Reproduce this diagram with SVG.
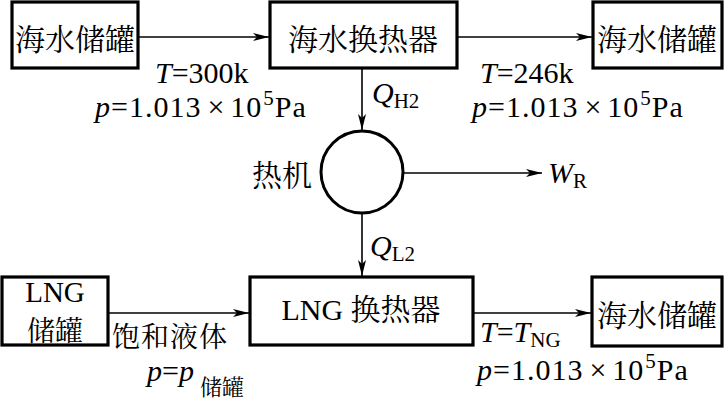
<svg xmlns="http://www.w3.org/2000/svg" width="725" height="401" viewBox="0 0 725 401">
<style>
.box{fill:#fff;stroke:#000;stroke-width:3.2}
.ln{fill:none;stroke:#000;stroke-width:1.6}
.cjk{font-family:"Noto Serif CJK SC","Noto Sans CJK SC",sans-serif;font-size:30px;fill:#000}
.lat{font-family:"Liberation Serif","Noto Sans CJK SC",serif;font-size:30px;fill:#000}
.it{font-style:italic}
.sub{font-size:21px}
.pl{letter-spacing:1px}
</style>
<defs>
<marker id="ah" markerUnits="userSpaceOnUse" markerWidth="18" markerHeight="10" refX="16" refY="5" orient="auto">
<path d="M0,1 L16,5 L0,9 L4,5 z" fill="#000"/>
</marker>
</defs>
<rect width="725" height="401" fill="#fff"/>
<g id="connectors">
<line class="ln" x1="138" y1="37" x2="269" y2="37" marker-end="url(#ah)"/>
<line class="ln" x1="457" y1="37" x2="592" y2="37" marker-end="url(#ah)"/>
<line class="ln" x1="362" y1="68" x2="362" y2="130" marker-end="url(#ah)"/>
<line class="ln" x1="403" y1="173" x2="542" y2="173" marker-end="url(#ah)"/>
<line class="ln" x1="362" y1="214" x2="362" y2="276" marker-end="url(#ah)"/>
<line class="ln" x1="108" y1="313" x2="249" y2="313" marker-end="url(#ah)"/>
<line class="ln" x1="473" y1="313" x2="591" y2="313" marker-end="url(#ah)"/>
</g>
<g id="tank1">
<rect class="box" x="12" y="2" width="126" height="66"/>
<text class="cjk" x="75" y="37" text-anchor="middle" dominant-baseline="central">海水储罐</text>
</g>
<g id="hx1">
<rect class="box" x="270" y="2" width="187" height="66"/>
<text class="cjk" x="363" y="37" text-anchor="middle" dominant-baseline="central">海水换热器</text>
</g>
<g id="tank2">
<rect class="box" x="593" y="2" width="129" height="66"/>
<text class="cjk" x="657" y="37" text-anchor="middle" dominant-baseline="central">海水储罐</text>
</g>
<g id="engine">
<circle cx="362" cy="172" r="41" fill="#fff" stroke="#000" stroke-width="3"/>
<text class="cjk" x="282" y="173" text-anchor="middle" dominant-baseline="central">热机</text>
</g>
<g id="lngtank">
<rect class="box" x="2" y="277" width="106" height="68"/>
<text class="lat" x="55" y="302" text-anchor="middle" style="font-size:29px">LNG</text>
<text class="cjk" x="55" y="329" text-anchor="middle" dominant-baseline="central" style="font-size:28px">储罐</text>
</g>
<g id="lnghx">
<rect class="box" x="250" y="277" width="223" height="68"/>
<text class="lat" x="361" y="320" text-anchor="middle">LNG <tspan class="cjk" style="font-size:30px">换热器</tspan></text>
</g>
<g id="tank3">
<rect class="box" x="592" y="277" width="130" height="69"/>
<text class="cjk" x="657" y="313" text-anchor="middle" dominant-baseline="central">海水储罐</text>
</g>
<g id="labels">
<text class="lat" x="155" y="83"><tspan class="it">T</tspan>=300k</text>
<text class="lat pl" x="95" y="117"><tspan class="it">p</tspan>=1.013<tspan dx="6">×</tspan><tspan dx="5">10</tspan><tspan class="sub" dx="1" dy="-12">5</tspan><tspan dy="12">Pa</tspan></text>
<text class="lat" x="480" y="83"><tspan class="it">T</tspan>=246k</text>
<text class="lat pl" x="472" y="117"><tspan class="it">p</tspan>=1.013<tspan dx="6">×</tspan><tspan dx="5">10</tspan><tspan class="sub" dx="1" dy="-12">5</tspan><tspan dy="12">Pa</tspan></text>
<text class="lat" x="372" y="103"><tspan class="it">Q</tspan><tspan class="sub" dy="5">H2</tspan></text>
<text class="lat" x="548" y="183"><tspan class="it">W</tspan><tspan class="sub" dy="5">R</tspan></text>
<text class="lat" x="370" y="256"><tspan class="it">Q</tspan><tspan class="sub" dy="5">L2</tspan></text>
<text class="cjk" x="112" y="335" dominant-baseline="central" style="font-size:28px;letter-spacing:1px">饱和液体</text>
<text class="lat" x="147" y="381"><tspan class="it">p</tspan>=<tspan class="it">p</tspan><tspan class="cjk" style="font-size:22px" dx="6" dy="14">储罐</tspan></text>
<text class="lat" x="480" y="342"><tspan class="it">T</tspan>=<tspan class="it">T</tspan><tspan class="sub" dy="5">NG</tspan></text>
<text class="lat pl" x="477" y="380"><tspan class="it">p</tspan>=1.013<tspan dx="6">×</tspan><tspan dx="5">10</tspan><tspan class="sub" dx="1" dy="-12">5</tspan><tspan dy="12">Pa</tspan></text>
</g>
</svg>
